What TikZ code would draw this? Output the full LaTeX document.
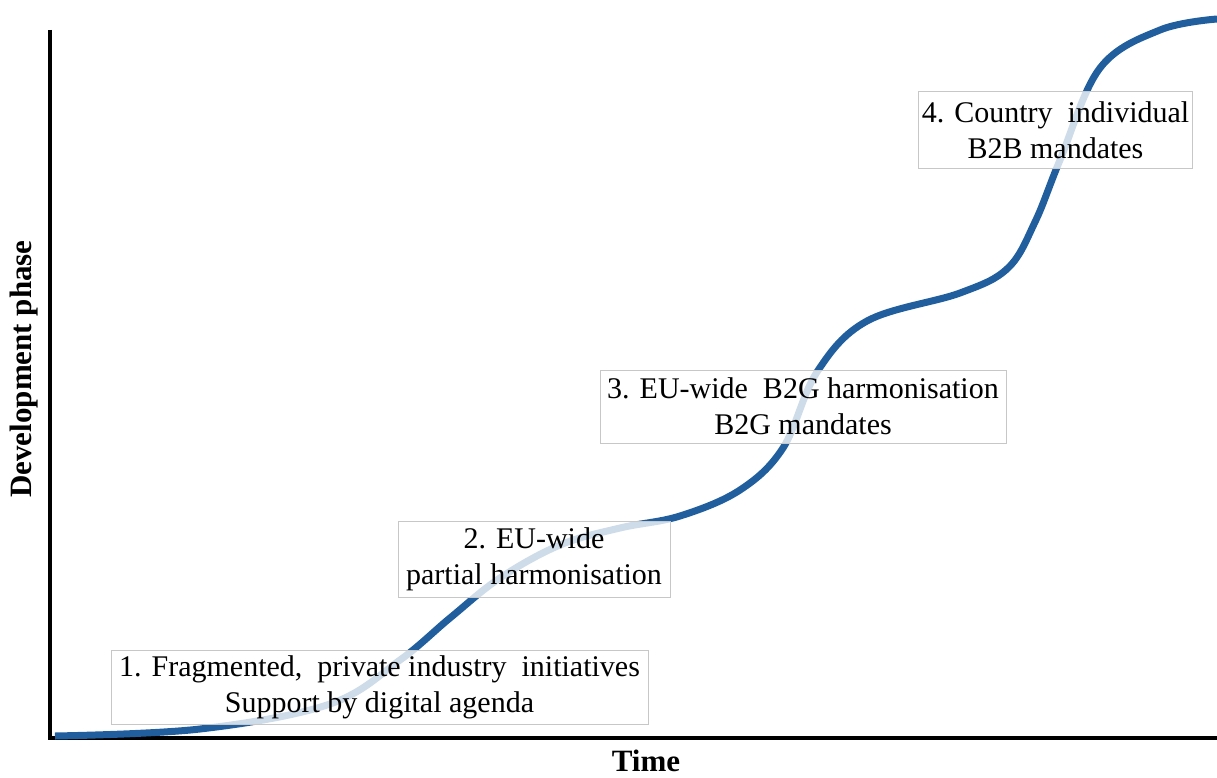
\documentclass[tikz,border=0pt]{standalone}
\usepackage{fontspec}
\setmainfont{Liberation Serif}
\usetikzlibrary{positioning}
\definecolor{phaseblue}{RGB}{33,94,158}

\begin{document}
\begin{tikzpicture}[x=1pt,y=-1pt,semithick]
    \tikzstyle{every node}=[font=\fontsize{30}{36}\selectfont]
    \tikzstyle{phase}=[draw=black!22,fill=white,fill opacity=0.78,text opacity=1,align=center,inner sep=3pt,line width=1pt]
    \tikzstyle{axislabel}=[font=\fontsize{31}{34}\selectfont\bfseries]
    \useasboundingbox (0,0) rectangle (1217,778);

    % axes
    \coordinate (O) at (50,738);
    \coordinate (Y) at (50,30);
    \coordinate (X) at (1217,738);
    \draw[line width=3.5pt] (Y) -- (O) -- (X);
    \node[axislabel,rotate=90] (ylab) at (24,369) {Development phase};
    \node[axislabel,anchor=base] (xlab) at (646,771) {Time};

    % s-curve
    \draw[phaseblue,line width=7pt] plot[smooth,tension=0.6] coordinates {
        (55,736) (200,729) (330,704) (400,660) (450,618) (500,578)
        (560,545) (620,528) (680,516) (740,490) (783,448) (817,372)
        (867,321) (960,293) (1008,268) (1035,222) (1060,160) (1100,68)
        (1160,30) (1217,19)};

    % phases
    \node[phase,minimum width=537pt,minimum height=74pt] (p1) at (379.5,687) {1. Fragmented,\ \ private industry\ \ initiatives\\Support by digital agenda};
    \node[phase,minimum width=272pt,minimum height=76pt] (p2) at (534,559) {2. EU-wide\\partial harmonisation};
    \node[phase,minimum width=406pt,minimum height=73pt] (p3) at (803,406.5) {3. EU-wide\ \ B2G harmonisation\\B2G mandates};
    \node[phase,minimum width=273pt,minimum height=77pt] (p4) at (1055.5,130.5) {4. Country\ \ individual\\B2B mandates};
\end{tikzpicture}
\end{document}
